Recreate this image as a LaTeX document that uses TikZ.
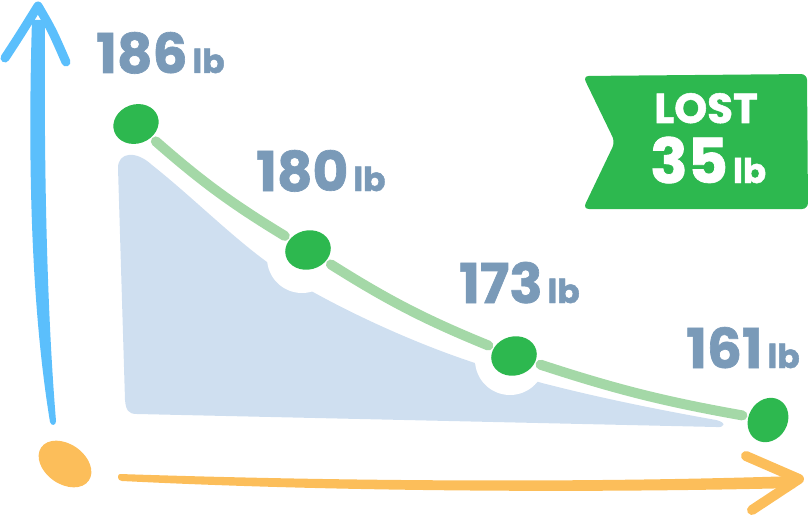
\documentclass[tikz,border=0pt]{standalone}
\usepackage{fontspec}
\newfontfamily\lblfont{Poppins}[BoldFeatures={FakeBold=1.2}]
\usetikzlibrary{shapes.geometric}
\definecolor{blueax}{HTML}{5BBFFC}
\definecolor{orangeax}{HTML}{FCBE5A}
\definecolor{gdot}{HTML}{2DB84F}
\definecolor{glinec}{HTML}{A4D8A7}
\definecolor{fillc}{HTML}{CFDFF0}
\definecolor{lblc}{HTML}{7A9AB8}
\newcommand\wnum[1]{{\fontsize{55}{55}\selectfont #1}\kern5pt{\fontsize{33}{33}\selectfont lb}}
\begin{document}
\begin{tikzpicture}[x=1pt,y=-1pt,
  dotnode/.style={ellipse, fill=gdot, draw=none, inner sep=0pt, minimum width=46pt, minimum height=39pt},
  gseg/.style={draw=glinec, line width=10pt, line cap=round, shorten <=6pt, shorten >=6pt},
  wlab/.style={text=lblc, font=\lblfont\bfseries, anchor=base west, inner sep=0pt},
  badgetxt/.style={text=white, font=\lblfont\bfseries, inner sep=0pt}]
\useasboundingbox (0,0) rectangle (809,516);
% shaded area
\fill[fillc] (118,168) .. controls (118,152) and (136,150) .. (152,165)
  .. controls (190,195) and (230,235) .. (267,262) -- (313,292)
  .. controls (360,318) and (420,345) .. (475,363) -- (542,383)
  .. controls (600,398) and (660,410) .. (716,420)
  .. controls (726,422) and (726,428) .. (716,427)
  -- (137,414) .. controls (128,414) and (126,410) .. (125,400) -- cycle;
\fill[white] (302,258) circle (35);
\fill[white] (510,360) circle (35);
% dots
\node[dotnode, rotate=20] (d1) at (136,124) {};
\node[dotnode, rotate=15] (d2) at (308,250) {};
\node[dotnode, rotate=15] (d3) at (514,356) {};
\node[dotnode, rotate=60] (d4) at (768,420) {};
% curve segments
\draw[gseg] (d1) to[bend right=5] (d2);
\draw[gseg] (d2) to[bend right=5] (d3);
\draw[gseg] (d3) to[bend right=4] (d4);
% labels
\node[wlab] (l1) at (96,73) {\wnum{186}};
\node[wlab] (l2) at (256,191) {\wnum{180}};
\node[wlab] (l3) at (459,303) {\wnum{173}};
\node[wlab] (l4) at (686,368) {\wnum{161}};
% badge
\fill[gdot, rounded corners=6pt] (583,76) -- (807,74) -- (808,209) -- (583,209) -- (615,142) -- cycle;
\node[badgetxt, anchor=base] (lost) at (706,123) {\fontsize{42}{42}\selectfont LOST};
\node[badgetxt, anchor=base west] (amt) at (650,183) {{\fontsize{62}{62}\selectfont 35}\kern5pt{\fontsize{34}{34}\selectfont lb}};
% origin
\node[ellipse, fill=orangeax, inner sep=0pt, minimum width=58pt, minimum height=40pt, rotate=-35] (o) at (65,464) {};
% y axis
\fill[blueax] (32,20) .. controls (28,150) and (30,300) .. (50,422)
  .. controls (51,426) and (56,426) .. (56,421)
  .. controls (46,300) and (44,150) .. (45,20) -- cycle;
\draw[blueax, line width=9pt, line cap=round, line join=round]
  (5,58) .. controls (20,35) .. (38,6) .. controls (52,30) .. (66,62);
% x axis
\fill[orangeax] (120,474) .. controls (300,480) and (550,484) .. (795,476)
  -- (795,488) .. controls (550,494) and (300,490) .. (122,481)
  .. controls (117,481) and (117,474) .. (120,474) -- cycle;
\draw[orangeax, line width=10pt, line cap=round, line join=round]
  (746,456) -- (799,479) -- (752,510);
\end{tikzpicture}
\end{document}
